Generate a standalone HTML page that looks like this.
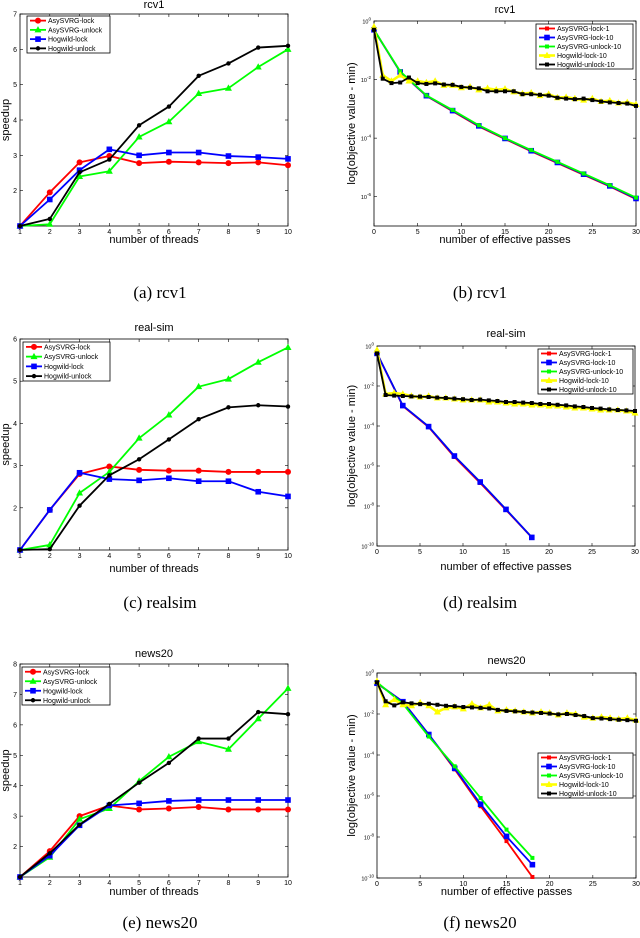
<!DOCTYPE html>
<html><head><meta charset="utf-8">
<style>
body{margin:0;background:#fff;width:640px;height:938px;overflow:hidden}
svg{display:block;font-family:"Liberation Sans",sans-serif}
.cap{font-family:"Liberation Serif",serif;font-size:17px}
</style></head>
<body>
<svg id="fig" width="640" height="938" viewBox="0 0 640 938">
<text class="cap" x="160" y="298" text-anchor="middle">(a)  rcv1</text>
<text class="cap" x="480" y="298" text-anchor="middle">(b)  rcv1</text>
<text class="cap" x="160" y="608" text-anchor="middle">(c)  realsim</text>
<text class="cap" x="480" y="608" text-anchor="middle">(d)  realsim</text>
<text class="cap" x="160" y="928" text-anchor="middle">(e)  news20</text>
<text class="cap" x="480" y="928" text-anchor="middle">(f)  news20</text>
</svg>
<script>
// ---- speedup data (x = threads) ----
const threads=[1,2,3,4,5,6,7,8,9,10];
const rcv1Lock=[1,1.95,2.8,2.98,2.78,2.82,2.8,2.78,2.8,2.72];
const rcv1Unlock=[1,1.05,2.4,2.55,3.52,3.95,4.75,4.9,5.5,6.0];
const rcv1HogLock=[1,1.75,2.58,3.17,3.0,3.08,3.08,2.98,2.95,2.9];
const rcv1HogUnlock=[1,1.2,2.52,2.88,3.85,4.38,5.25,5.6,6.05,6.1];
const realLock=[1,1.95,2.8,2.98,2.9,2.88,2.88,2.85,2.85,2.85];
const realUnlock=[1,1.12,2.35,2.85,3.65,4.2,4.87,5.05,5.45,5.8];
const realHogLock=[1,1.95,2.83,2.68,2.65,2.7,2.63,2.63,2.38,2.27];
const realHogUnlock=[1,1.02,2.05,2.77,3.15,3.62,4.1,4.38,4.43,4.4];
const newsLock=[1,1.85,3.0,3.35,3.22,3.25,3.3,3.22,3.22,3.22];
const newsUnlock=[1,1.65,2.9,3.25,4.15,4.95,5.45,5.2,6.2,7.2];
const newsHogLock=[1,1.7,2.7,3.35,3.42,3.5,3.53,3.53,3.53,3.53];
const newsHogUnlock=[1,1.78,2.72,3.4,4.1,4.75,5.55,5.55,6.42,6.35];
// ---- convergence data (log10 of objective gap) ----
const passes3=[0,3,6,9,12,15,18,21,24,27,30];
const passes3short=[0,3,6,9,12,15,18];
const passes1=[0,1,2,3,4,5,6,7,8,9,10,11,12,13,14,15,16,17,18,19,20,21,22,23,24,25,26,27,28,29,30];
const rcvSvrgLock1=[-0.3,-1.74,-2.56,-3.08,-3.6,-4.03,-4.45,-4.85,-5.25,-5.65,-6.08];
const rcvSvrgLock10=[-0.3,-1.74,-2.55,-3.06,-3.58,-4.01,-4.43,-4.83,-5.23,-5.63,-6.06];
const rcvSvrgUnlock10=[-0.3,-1.72,-2.54,-3.04,-3.56,-4.0,-4.41,-4.81,-5.21,-5.61,-6.03];
const rcvHogLock10=[-0.2,-1.85,-2.05,-1.85,-2.05,-2.05,-2.1,-2.05,-2.2,-2.2,-2.28,-2.25,-2.35,-2.3,-2.35,-2.32,-2.42,-2.48,-2.45,-2.55,-2.5,-2.62,-2.6,-2.65,-2.7,-2.65,-2.75,-2.72,-2.8,-2.78,-2.85];
const rcvHogUnlock10=[-0.3,-1.97,-2.12,-2.1,-1.93,-2.12,-2.15,-2.13,-2.17,-2.18,-2.25,-2.28,-2.3,-2.4,-2.4,-2.4,-2.4,-2.5,-2.5,-2.52,-2.55,-2.62,-2.65,-2.67,-2.65,-2.7,-2.75,-2.78,-2.8,-2.82,-2.9];
const realSvrgLock1=[-0.37,-3.0,-4.05,-5.55,-6.85,-8.2,-9.57];
const realSvrgLock10=[-0.37,-2.98,-4.03,-5.5,-6.8,-8.17,-9.57];
const realSvrgUnlock10=[-0.37,-2.98,-4.03,-5.5,-6.8,-8.17,-9.57];
const realHogLock10=[-0.2,-2.4,-2.35,-2.4,-2.5,-2.55,-2.5,-2.6,-2.6,-2.65,-2.7,-2.7,-2.7,-2.8,-2.8,-2.85,-2.9,-2.9,-2.95,-2.95,-3.0,-3.0,-3.05,-3.1,-3.1,-3.15,-3.2,-3.2,-3.2,-3.25,-3.35];
const realHogUnlock10=[-0.37,-2.45,-2.48,-2.5,-2.52,-2.53,-2.55,-2.58,-2.6,-2.63,-2.66,-2.7,-2.68,-2.72,-2.75,-2.8,-2.8,-2.83,-2.85,-2.9,-2.9,-2.94,-2.97,-3.02,-3.05,-3.1,-3.13,-3.17,-3.2,-3.22,-3.25];
const newsSvrgLock1=[-0.5,-1.4,-3.0,-4.7,-6.5,-8.2,-9.95];
const newsSvrgLock10=[-0.5,-1.4,-3.0,-4.65,-6.4,-7.97,-9.35];
const newsSvrgUnlock10=[-0.45,-1.5,-3.1,-4.55,-6.1,-7.64,-9.02];
const newsHogLock10=[-0.4,-1.55,-1.3,-1.55,-1.6,-1.45,-1.6,-1.9,-1.7,-1.65,-1.75,-1.5,-1.7,-1.55,-1.85,-1.8,-1.85,-1.9,-1.95,-1.9,-1.95,-2.05,-1.95,-2.0,-2.15,-2.2,-2.15,-2.2,-2.25,-2.2,-2.3];
const newsHogUnlock10=[-0.45,-1.38,-1.58,-1.43,-1.48,-1.52,-1.5,-1.55,-1.6,-1.62,-1.66,-1.68,-1.7,-1.73,-1.8,-1.85,-1.87,-1.9,-1.93,-1.95,-1.98,-2.02,-2.0,-2.05,-2.1,-2.2,-2.22,-2.25,-2.28,-2.3,-2.33];

const NS='http://www.w3.org/2000/svg';
const fig=document.getElementById('fig');
function el(tag,attrs,parent){const e=document.createElementNS(NS,tag);for(const k in attrs)e.setAttribute(k,attrs[k]);(parent||fig).appendChild(e);return e;}

function marker(g,type,x,y,color){
  let m;
  if(type==='o')m=el('circle',{cx:x,cy:y,r:3,fill:color},g);
  else if(type==='.')m=el('circle',{cx:x,cy:y,r:2.2,fill:color},g);
  else if(type==='s')m=el('rect',{x:x-2.8,y:y-2.8,width:5.6,height:5.6,fill:color},g);
  else if(type==='t')m=el('polygon',{points:`${x},${y-3.8} ${x-3.5},${y+2.5} ${x+3.5},${y+2.5}`,fill:color},g);
  else m=el('rect',{x:x-2,y:y-2,width:4,height:4,fill:color},g);
  
  
}

function plot(cfg){
  const g=el('g',{});
  
  
  const b=cfg.box;
  const sx=v=>b.l+(v-cfg.xmin)/(cfg.xmax-cfg.xmin)*(b.r-b.l);
  const sy=v=>b.b-(v-cfg.ymin)/(cfg.ymax-cfg.ymin)*(b.b-b.t);
  const frame=el('rect',{x:b.l,y:b.t,width:b.r-b.l,height:b.b-b.t,fill:'#fff',stroke:'#000','stroke-width':0.8},g);
  
  
  cfg.xticks.forEach(v=>{
    const x=sx(v);
    el('line',{x1:x,y1:b.b,x2:x,y2:b.b-3,stroke:'#000','stroke-width':0.6},g);
    el('line',{x1:x,y1:b.t,x2:x,y2:b.t+3,stroke:'#000','stroke-width':0.6},g);
    const t=el('text',{x:x,y:b.b+8,'font-size':7,'text-anchor':'middle'},g);
    t.textContent=v;
    
    
  });
  cfg.yticks.forEach(v=>{
    const y=sy(v);
    el('line',{x1:b.l,y1:y,x2:b.l+3,y2:y,stroke:'#000','stroke-width':0.6},g);
    el('line',{x1:b.r,y1:y,x2:b.r-3,y2:y,stroke:'#000','stroke-width':0.6},g);
    const t=el('text',{x:b.l-3,y:y+2.5,'font-size':cfg.log?5.5:7,'text-anchor':'end'},g);
    if(cfg.log){t.textContent='10';const s=el('tspan',{dy:-3,'font-size':4.5},t);s.textContent=v;}
    else t.textContent=v;
    
    
  });
  const tt=el('text',{x:(b.l+b.r)/2,y:cfg.titleY,'font-size':11,'text-anchor':'middle'},g);
  tt.textContent=cfg.title;
  
  
  const xl=el('text',{x:(b.l+b.r)/2,y:cfg.xlabelY,'font-size':11,'text-anchor':'middle'},g);
  xl.textContent=cfg.xlabel;
  
  
  const yx=cfg.ylabelX,yy=(b.t+b.b)/2;
  const yl=el('text',{x:yx,y:yy,'font-size':11,'text-anchor':'middle',transform:`rotate(-90 ${yx} ${yy})`},g);
  yl.textContent=cfg.ylabel;
  
  
  const order=cfg.order||cfg.series.map((s,i)=>i);
  order.forEach(idx=>{
    const s=cfg.series[idx];
    const sg=el('g',{},g);
    
    
    const pts=s.xs.map((x,i)=>sx(x)+','+sy(s.ys[i])).join(' ');
    const pl=el('polyline',{points:pts,fill:'none',stroke:s.color,'stroke-width':s.w||1.8,'stroke-linejoin':'round'},sg);
    
    
    s.xs.forEach((x,i)=>marker(sg,s.m,sx(x),sy(s.ys[i]),s.color));
  });
  const L=cfg.legend;
  const lg=el('g',{},g);
  
  
  el('rect',{x:L.x,y:L.y,width:L.w,height:L.h,fill:'#fff',stroke:'#000','stroke-width':0.8},lg);
  const step=L.h/cfg.series.length;
  cfg.series.forEach((s,i)=>{
    const y=L.y+step*(i+0.5);
    const e=el('g',{},lg);
    
    
    el('line',{x1:L.x+3,y1:y,x2:L.x+19,y2:y,stroke:s.color,'stroke-width':s.w||1.8},e);
    marker(e,s.m,L.x+11,y,s.color);
    const t=el('text',{x:L.x+21,y:y+2.5,'font-size':7},e);
    t.textContent=s.label;
  });
}

function speed(name,title,box,ymax,ticksY,legend,tY,xlY,d){
  plot({name,title,box,xmin:1,xmax:10,ymin:1,ymax,xticks:threads,yticks:ticksY,titleY:tY,xlabelY:xlY,xlabel:'number of threads',ylabel:'speedup',ylabelX:9,legend,
    series:[
      {label:'AsySVRG-lock',color:'#ff0000',m:'o',xs:threads,ys:d[0]},
      {label:'AsySVRG-unlock',color:'#00ff00',m:'t',xs:threads,ys:d[1]},
      {label:'Hogwild-lock',color:'#0000ff',m:'s',xs:threads,ys:d[2]},
      {label:'Hogwild-unlock',color:'#000000',m:'.',xs:threads,ys:d[3]}]});
}
speed('speedup-rcv1','rcv1',{l:20,r:288,t:14,b:226},7,[2,3,4,5,6,7],{x:27,y:16,w:83,h:37},8,243,[rcv1Lock,rcv1Unlock,rcv1HogLock,rcv1HogUnlock]);
speed('speedup-realsim','real-sim',{l:20,r:288,t:339,b:550},6,[2,3,4,5,6],{x:23,y:342,w:87,h:39},331,572,[realLock,realUnlock,realHogLock,realHogUnlock]);
speed('speedup-news20','news20',{l:20,r:288,t:664,b:877},8,[2,3,4,5,6,7,8],{x:22,y:667,w:88,h:38},657,895,[newsLock,newsUnlock,newsHogLock,newsHogUnlock]);

function conv(name,title,box,ymin,ticksY,legend,tY,xlY,xs3,d,order){
  plot({name,title,box,xmin:0,xmax:30,ymin,ymax:0,log:true,xticks:[0,5,10,15,20,25,30],yticks:ticksY,titleY:tY,xlabelY:xlY,xlabel:'number of effective passes',ylabel:'log(objective value - min)',ylabelX:355,legend,order,
    series:[
      {label:'AsySVRG-lock-1',color:'#ff0000',m:'q',xs:xs3,ys:d[0]},
      {label:'AsySVRG-lock-10',color:'#0000ff',m:'s',xs:xs3,ys:d[1]},
      {label:'AsySVRG-unlock-10',color:'#00ff00',m:'q',xs:xs3,ys:d[2]},
      {label:'Hogwild-lock-10',color:'#ffff00',m:'t',xs:passes1,ys:d[3],w:2.6},
      {label:'Hogwild-unlock-10',color:'#000000',m:'q',xs:passes1,ys:d[4]}]});
}
conv('convergence-rcv1','rcv1',{l:374,r:636,t:21,b:226},-7,[0,-2,-4,-6],{x:536,y:24,w:97,h:45},13,243,passes3,[rcvSvrgLock1,rcvSvrgLock10,rcvSvrgUnlock10,rcvHogLock10,rcvHogUnlock10]);
conv('convergence-realsim','real-sim',{l:377,r:635,t:346,b:546},-10,[0,-2,-4,-6,-8,-10],{x:538,y:349,w:95,h:45},337,570,passes3short,[realSvrgLock1,realSvrgLock10,realSvrgUnlock10,realHogLock10,realHogUnlock10],[2,0,1,3,4]);
conv('convergence-news20','news20',{l:377,r:636,t:673,b:878},-10,[0,-2,-4,-6,-8,-10],{x:538,y:753,w:95,h:45},664,895,passes3short,[newsSvrgLock1,newsSvrgLock10,newsSvrgUnlock10,newsHogLock10,newsHogUnlock10]);
</script>
</body></html>
